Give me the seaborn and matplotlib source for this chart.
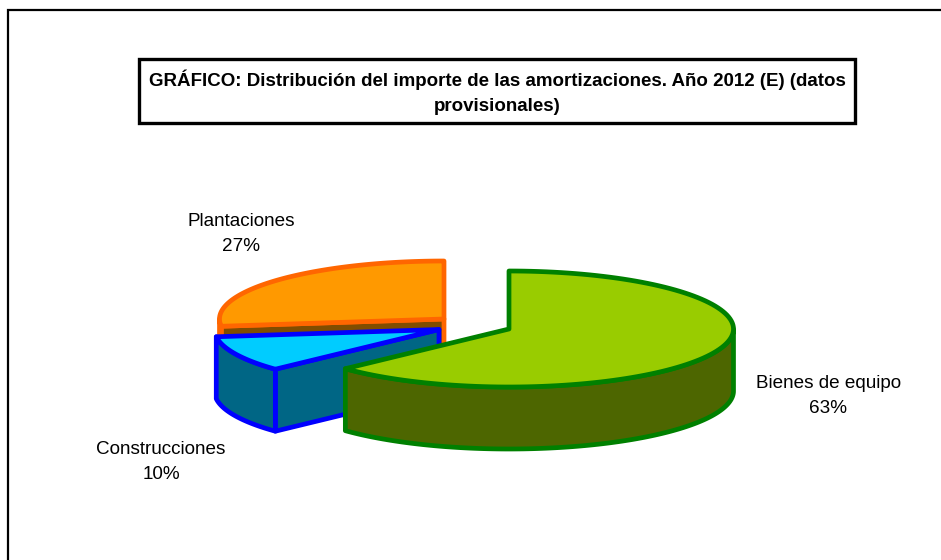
import numpy as np
import matplotlib
matplotlib.use("Agg")
import matplotlib.pyplot as plt
from matplotlib.patches import Polygon, Rectangle
import seaborn as sns

# Data
categories = ["Bienes de equipo", "Construcciones", "Plantaciones"]
shares = [63, 10, 27]
title_text = "GRÁFICO: Distribución del importe de las amortizaciones. Año 2012 (E) (datos\nprovisionales)"

# Styles
top_colors = ["#99CC00", "#00CCFF", "#FF9900"]
wall_colors = ["#4D6600", "#006685", "#804D00"]
edge_colors = ["#008000", "#0000FF", "#FF6600"]
centers = [(509, 329), (439, 329.5), (444, 319)]
label_pos = [(828.5, 396), (161, 462), (241, 234)]
RX, RY, DEPTH = 224.5, 58, 62
LW = 3.4

sns.set_theme(style="white")
plt.rcParams["font.family"] = ["Liberation Sans", "DejaVu Sans"]

fig = plt.figure(figsize=(9.41, 5.6), dpi=100, facecolor="white")
ax = fig.add_axes([0, 0, 1, 1])
ax.set_xlim(0, 941)
ax.set_ylim(560, 0)
ax.axis("off")

# Outer chart frame runs past the right and bottom edges of the picture
ax.add_patch(Rectangle((8.5, 10), 1200, 900, fc="white", ec="black", lw=1.6))

# Title box
ax.add_patch(Rectangle((139.5, 59), 715.5, 64, fc="white", ec="black", lw=2.4, zorder=5))
ax.text(497.5, 92, title_text, ha="center", va="center", fontsize=13.53,
        fontweight="bold", color="black", linespacing=1.6, zorder=6)


def rim(c, t0, t1, dy=0.0, n=120):
    t = np.radians(np.linspace(t0, t1, n))
    return np.column_stack([c[0] + RX * np.sin(t), c[1] - RY * np.cos(t) + dy])


def poly(pts, fc, ec, z):
    ax.add_patch(Polygon(pts, closed=True, fc=fc, ec=ec, lw=LW, joinstyle="round", zorder=z))


# Angular extents come from the shares, clockwise from twelve o'clock
fracs = np.array(shares) / np.sum(shares) * 360
ends = np.cumsum(fracs)
starts = ends - fracs

for i in [2, 1, 0]:
    c = centers[i]
    t0, t1 = starts[i], ends[i]
    z = 10 + (2 - i) * 3
    # cut face on the slice's first edge, when it faces the viewer
    if 180 < t0 < 360:
        e = rim(c, t0, t0, n=1)[0]
        face = np.array([c, e, e + [0, DEPTH], [c[0], c[1] + DEPTH]])
        poly(face, wall_colors[i], edge_colors[i], z)
    # outer wall, the visible part of the rim
    a, b = max(t0, 90), min(t1, 270)
    if b > a:
        front = rim(c, a, b)
        back = rim(c, b, a, dy=DEPTH)
        poly(np.vstack([front, back]), wall_colors[i], edge_colors[i], z + 1)
    # top
    poly(np.vstack([[c], rim(c, t0, t1)]), top_colors[i], edge_colors[i], z + 2)

for name, val, (x, y) in zip(categories, shares, label_pos):
    ax.text(x, y, f"{name}\n{val}%", ha="center", va="center", fontsize=13.6,
            color="black", linespacing=1.56, zorder=30)

fig.savefig("out.png", dpi=100, facecolor="white")
